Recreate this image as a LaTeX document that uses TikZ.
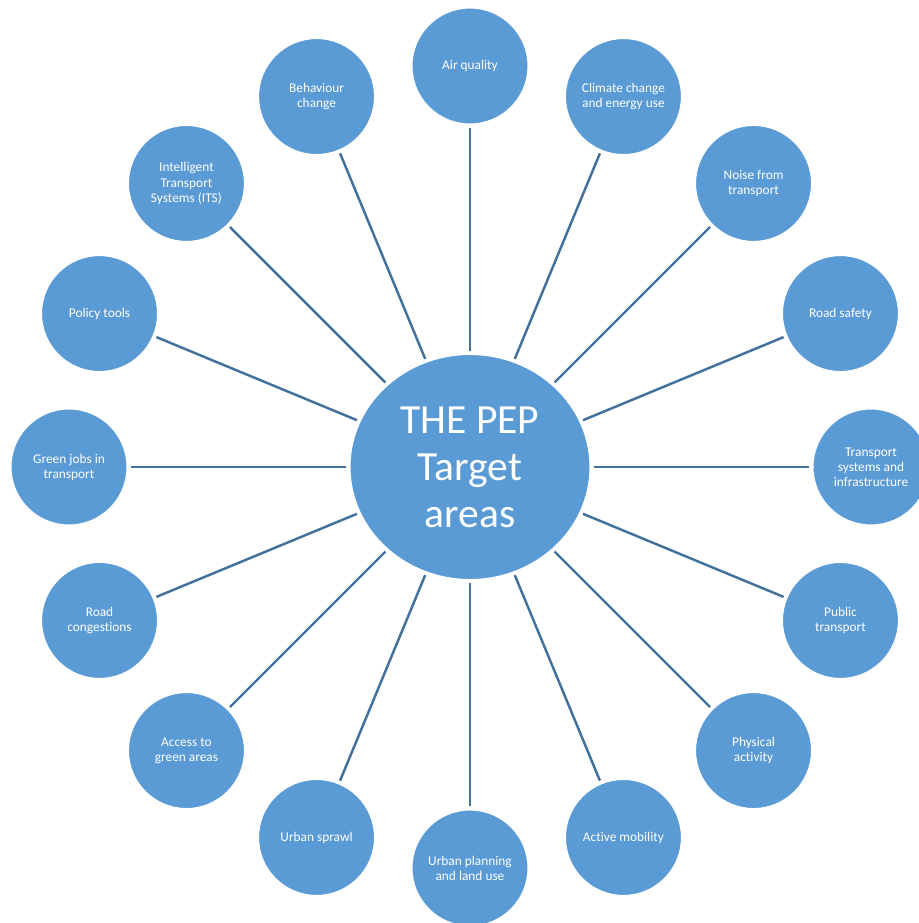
\documentclass[tikz,border=0pt]{standalone}
\usepackage{fontspec}
\setmainfont{Carlito}[Ligatures={NoCommon}]
\usetikzlibrary{
  shapes.geometric}
\definecolor{areablue}{HTML}{5B9BD5}
\definecolor{linkblue}{HTML}{41719C}

\begin{document}
\begin{tikzpicture}[
  target/.style={ellipse,draw=white,line width=0.6pt,fill=areablue,text=white,
    minimum width=4.8cm,minimum height=4.5cm,inner sep=0pt,align=center,
    font=\fontsize{23.6}{26.7}\selectfont},
  area/.style={circle,draw=white,line width=0.6pt,fill=areablue,text=white,
    minimum size=2.32cm,inner sep=0pt,align=center,
    font=\fontsize{7.6}{8.6}\selectfont},
  link/.style={draw=linkblue,line width=1.4pt,shorten <=0.06cm,shorten >=0.06cm}
]%
  \useasboundingbox (-9.40,-9.12) rectangle (8.98,9.34);

  \node[target] (tC) at (0,0) {THE PEP\\Target\\areas};

  \node[area] (t1)  at (90:8.02)     {Air quality};
  \node[area] (t2)  at (67.5:8.02)   {Climate change\\and energy use};
  \node[area] (t3)  at (45:8.02)     {Noise from\\transport};
  \node[area] (t4)  at (22.5:8.02)   {Road safety};
  \node[area] (t5)  at (0:8.02)      {Transport\\systems and\\infrastructure};
  \node[area] (t6)  at (-22.5:8.02)  {Public\\transport};
  \node[area] (t7)  at (-45:8.02)    {Physical\\activity};
  \node[area] (t8)  at (-67.5:8.02)  {Active mobility};
  \node[area] (t9)  at (-90:8.02)    {Urban planning\\and land use};
  \node[area] (t10) at (-112.5:8.02) {Urban sprawl};
  \node[area] (t11) at (-135:8.02)   {Access to\\green areas};
  \node[area] (t12) at (-157.5:8.02) {Road\\congestions};
  \node[area] (t13) at (180:8.02)    {Green jobs in\\transport};
  \node[area] (t14) at (157.5:8.02)  {Policy tools};
  \node[area] (t15) at (135:8.02)    {Intelligent\\Transport\\Systems (ITS)};
  \node[area] (t16) at (112.5:8.02)  {Behaviour\\change};

  \draw[link] (tC) -- (t1);
  \draw[link] (tC) -- (t2);
  \draw[link] (tC) -- (t3);
  \draw[link] (tC) -- (t4);
  \draw[link] (tC) -- (t5);
  \draw[link] (tC) -- (t6);
  \draw[link] (tC) -- (t7);
  \draw[link] (tC) -- (t8);
  \draw[link] (tC) -- (t9);
  \draw[link] (tC) -- (t10);
  \draw[link] (tC) -- (t11);
  \draw[link] (tC) -- (t12);
  \draw[link] (tC) -- (t13);
  \draw[link] (tC) -- (t14);
  \draw[link] (tC) -- (t15);
  \draw[link] (tC) -- (t16);

\end{tikzpicture}
\end{document}
